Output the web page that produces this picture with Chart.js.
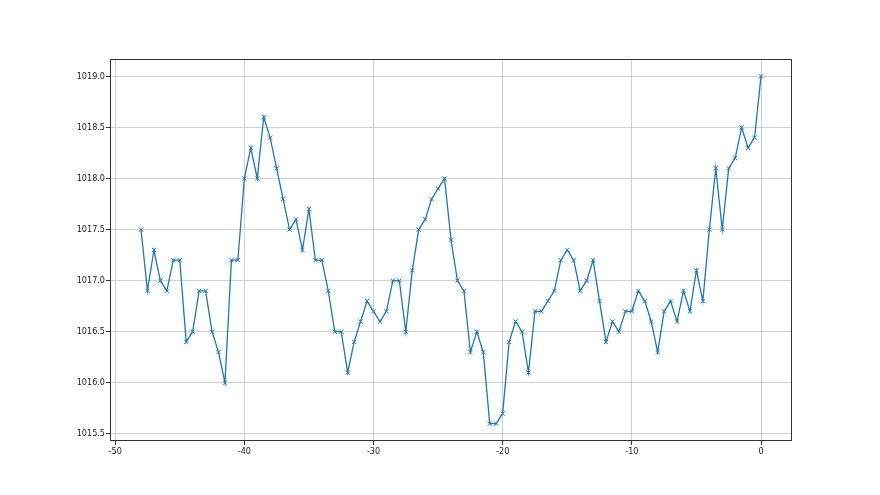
<!DOCTYPE html>
<html>
<head>
<meta charset="utf-8">
<script src="https://cdn.jsdelivr.net/npm/chart.js@4"></script>
<style>
  html, body { margin: 0; padding: 0; background: #fff; }
  #wrap { width: 880px; height: 495px; position: relative; }
</style>
</head>
<body>
<div id="wrap"><canvas id="chart"></canvas></div>
<script>
// sample positions (hours) and pressure readings
const hours = [
  -48, -47.5, -47, -46.5, -46, -45.5, -45, -44.5, -44, -43.5,
  -43, -42.5, -42, -41.5, -41, -40.5, -40, -39.5, -39, -38.5,
  -38, -37.5, -37, -36.5, -36, -35.5, -35, -34.5, -34, -33.5,
  -33, -32.5, -32, -31.5, -31, -30.5, -30, -29.5, -29, -28.5,
  -28, -27.5, -27, -26.5, -26, -25.5, -25, -24.5, -24, -23.5,
  -23, -22.5, -22, -21.5, -21, -20.5, -20, -19.5, -19, -18.5,
  -18, -17.5, -17, -16.5, -16, -15.5, -15, -14.5, -14, -13.5,
  -13, -12.5, -12, -11.5, -11, -10.5, -10, -9.5, -9, -8.5,
  -8, -7.5, -7, -6.5, -6, -5.5, -5, -4.5, -4, -3.5,
  -3, -2.5, -2, -1.5, -1, -0.5, 0
];
const pressure = [
  1017.5, 1016.9, 1017.3, 1017.0, 1016.9, 1017.2, 1017.2, 1016.4, 1016.5, 1016.9,
  1016.9, 1016.5, 1016.3, 1016.0, 1017.2, 1017.2, 1018.0, 1018.3, 1018.0, 1018.6,
  1018.4, 1018.1, 1017.8, 1017.5, 1017.6, 1017.3, 1017.7, 1017.2, 1017.2, 1016.9,
  1016.5, 1016.5, 1016.1, 1016.4, 1016.6, 1016.8, 1016.7, 1016.6, 1016.7, 1017.0,
  1017.0, 1016.5, 1017.1, 1017.5, 1017.6, 1017.8, 1017.9, 1018.0, 1017.4, 1017.0,
  1016.9, 1016.3, 1016.5, 1016.3, 1015.6, 1015.6, 1015.7, 1016.4, 1016.6, 1016.5,
  1016.1, 1016.7, 1016.7, 1016.8, 1016.9, 1017.2, 1017.3, 1017.2, 1016.9, 1017.0,
  1017.2, 1016.8, 1016.4, 1016.6, 1016.5, 1016.7, 1016.7, 1016.9, 1016.8, 1016.6,
  1016.3, 1016.7, 1016.8, 1016.6, 1016.9, 1016.7, 1017.1, 1016.8, 1017.5, 1018.1,
  1017.5, 1018.1, 1018.2, 1018.5, 1018.3, 1018.4, 1019.0
];
const xTicks = [-50, -40, -30, -20, -10, 0];
const yTicks = [1015.5, 1016.0, 1016.5, 1017.0, 1017.5, 1018.0, 1018.5, 1019.0];

const tickFont = { family: "'DejaVu Sans Condensed', 'DejaVu Sans', sans-serif", size: 9 };

// full box around the plot like matplotlib spines
const frameBox = {
  id: 'frameBox',
  afterDatasetsDraw(chart) {
    const { ctx, chartArea: a } = chart;
    ctx.save();
    ctx.strokeStyle = '#333';
    ctx.lineWidth = 1;
    ctx.strokeRect(a.left + 0.5, a.top + 0.5, a.right - a.left - 1, a.bottom - a.top - 1);
    ctx.restore();
  }
};

new Chart(document.getElementById('chart'), {
  type: 'line',
  data: {
    datasets: [{
      data: hours.map((h, i) => ({ x: h, y: pressure[i] })),
      borderColor: '#1f77b4',
      borderWidth: 1.3,
      tension: 0,
      pointStyle: 'crossRot',
      pointRadius: 3,
      pointBorderWidth: 1,
      pointBorderColor: '#1f77b4',
      pointBackgroundColor: '#1f77b4'
    }]
  },
  options: {
    responsive: true,
    maintainAspectRatio: false,
    animation: false,
    layout: { padding: { left: 0, top: 59, right: 88, bottom: 0 } },
    plugins: { legend: { display: false }, tooltip: { enabled: false } },
    scales: {
      x: {
        type: 'linear',
        min: -50.4,
        max: 2.4,
        afterBuildTicks: axis => { axis.ticks = xTicks.map(v => ({ value: v })); },
        afterFit: axis => { axis.height = 54; },
        border: { display: false },
        grid: { color: '#c4c4c4', lineWidth: 0.8, tickColor: '#333', tickLength: 4, tickWidth: 1 },
        ticks: { color: '#222', font: tickFont, padding: 1, maxRotation: 0 }
      },
      y: {
        type: 'linear',
        min: 1015.43,
        max: 1019.17,
        afterBuildTicks: axis => { axis.ticks = yTicks.map(v => ({ value: v })); },
        afterFit: axis => { axis.width = 110; },
        border: { display: false },
        grid: { color: '#c4c4c4', lineWidth: 0.8, tickColor: '#333', tickLength: 4, tickWidth: 1 },
        ticks: { color: '#222', font: tickFont, padding: 1, callback: v => v.toFixed(1) }
      }
    }
  },
  plugins: [frameBox]
});
</script>
</body>
</html>
